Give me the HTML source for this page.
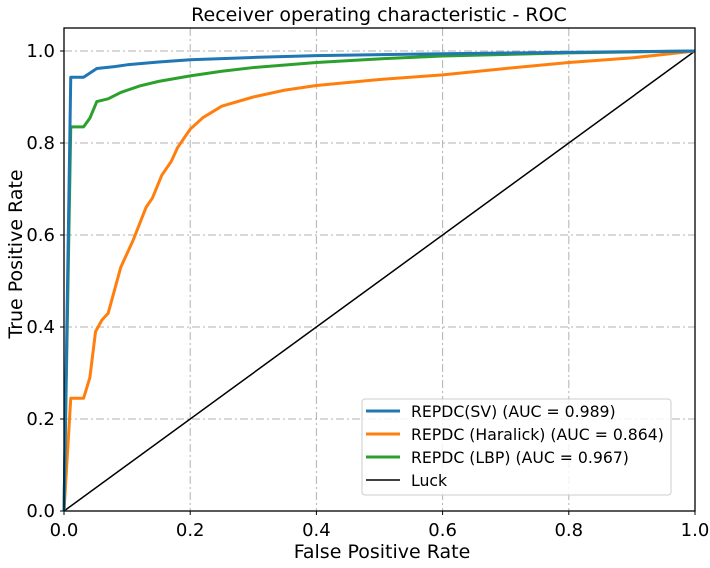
<!DOCTYPE html>
<html><head><meta charset="utf-8"><style>
body{margin:0;background:#fff;}
svg text{font-family:"DejaVu Sans","Liberation Sans",sans-serif;fill:#000;}
</style></head><body>
<svg id="chart" width="710" height="563" xmlns="http://www.w3.org/2000/svg">
<rect width="710" height="563" fill="#fff"/>
<g id="grid"></g>
<g id="series"></g>
<rect x="64" y="28" width="631" height="483" fill="none" stroke="#000" stroke-width="1.3"/>
<g id="ticks"></g>
<text x="379" y="21" font-size="19" text-anchor="middle">Receiver operating characteristic - ROC</text>
<text x="382" y="558" font-size="19" text-anchor="middle">False Positive Rate</text>
<text transform="translate(22,254) rotate(-90)" font-size="19" text-anchor="middle">True Positive Rate</text>
<g>
<rect x="362" y="399" width="309" height="96" rx="3" fill="#fff" fill-opacity="0.85" stroke="#ccc"/>
<line x1="366" y1="411" x2="400" y2="411" stroke="#1f77b4" stroke-width="3"/>
<text x="411" y="417" font-size="15.7">REPDC(SV) (AUC = 0.989)</text>
<line x1="366" y1="434" x2="400" y2="434" stroke="#ff7f0e" stroke-width="3"/>
<text x="411" y="440" font-size="15.7">REPDC (Haralick) (AUC = 0.864)</text>
<line x1="366" y1="457" x2="400" y2="457" stroke="#2ca02c" stroke-width="3"/>
<text x="411" y="463" font-size="15.7">REPDC (LBP) (AUC = 0.967)</text>
<line x1="366" y1="480" x2="400" y2="480" stroke="#000" stroke-width="1.5"/>
<text x="411" y="486" font-size="15.7">Luck</text>
</g>
</svg>
<script>
const ticks=[0,0.2,0.4,0.6,0.8,1.0];
const tickLabels=["0.0","0.2","0.4","0.6","0.8","1.0"];
const svFpr=[0,0.0107,0.031,0.052,0.08,0.1,0.15,0.2,0.3,0.4,0.6,0.8,1];
const svTpr=[0,0.943,0.943,0.962,0.966,0.97,0.976,0.981,0.986,0.99,0.994,0.997,1];
const lbpFpr=[0,0.0107,0.031,0.041,0.052,0.07,0.09,0.12,0.15,0.2,0.25,0.3,0.4,0.5,0.6,0.8,1];
const lbpTpr=[0,0.835,0.835,0.854,0.89,0.896,0.91,0.924,0.934,0.946,0.956,0.964,0.975,0.983,0.989,0.996,1];
const harFpr=[0,0.0107,0.031,0.041,0.05,0.06,0.07,0.08,0.09,0.11,0.13,0.14,0.155,0.17,0.18,0.2,0.22,0.25,0.3,0.35,0.4,0.5,0.6,0.7,0.8,0.9,1];
const harTpr=[0,0.245,0.245,0.29,0.39,0.415,0.43,0.48,0.53,0.59,0.66,0.68,0.73,0.76,0.79,0.83,0.855,0.88,0.9,0.915,0.925,0.938,0.948,0.962,0.975,0.985,1];
const luckFpr=[0,1];
const luckTpr=[0,1];
const X=v=>64+v*631, Y=v=>511-v*460;
const NS="http://www.w3.org/2000/svg";
const grid=document.getElementById('grid'),tk=document.getElementById('ticks'),ser=document.getElementById('series');
function mk(tag,attrs,parent){const e=document.createElementNS(NS,tag);for(const k in attrs)e.setAttribute(k,attrs[k]);parent.appendChild(e);return e;}
ticks.forEach((t,i)=>{
 if(t>0&&t<1){
  const g1=mk('line',{x1:X(t),x2:X(t),y1:28,y2:511,stroke:'#b0b0b0','stroke-dasharray':'8,3,2,3'},grid);
  
  
 }
 if(t>0){
  const g2=mk('line',{x1:64,x2:695,y1:Y(t),y2:Y(t),stroke:'#b0b0b0','stroke-dasharray':'8,3,2,3'},grid);
  
  
 }
 mk('line',{x1:X(t),x2:X(t),y1:511,y2:515,stroke:'#000'},tk);
 mk('line',{x1:60,x2:64,y1:Y(t),y2:Y(t),stroke:'#000'},tk);
 const xl=mk('text',{x:X(t),y:536,'font-size':18,'text-anchor':'middle'},tk);xl.textContent=tickLabels[i];
 
 
 const yl=mk('text',{x:55,y:Y(t)+6,'font-size':18,'text-anchor':'end'},tk);yl.textContent=tickLabels[i];
 
 
});
function line(xs,ys,color,w,name){
 const p=mk('polyline',{points:xs.map((x,i)=>X(x)+','+Y(ys[i])).join(' '),fill:'none',stroke:color,'stroke-width':w,'stroke-linejoin':'round'},ser);
 
 
}
line(luckFpr,luckTpr,'#000',1.5,'luck-line');
line(harFpr,harTpr,'#ff7f0e',3,'haralick-curve');
line(lbpFpr,lbpTpr,'#2ca02c',3,'lbp-curve');
line(svFpr,svTpr,'#1f77b4',3,'sv-curve');
</script>
</body></html>
